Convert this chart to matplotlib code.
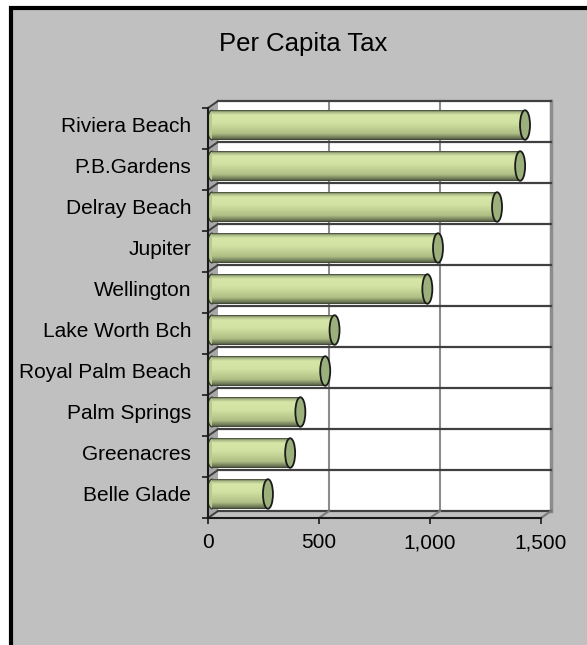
import numpy as np
import matplotlib.pyplot as plt
from matplotlib.patches import Rectangle, Ellipse, Polygon
from matplotlib.colors import LinearSegmentedColormap
from matplotlib.transforms import ScaledTranslation, IdentityTransform
from matplotlib.lines import Line2D

plt.rcParams['font.family'] = ['Liberation Sans', 'DejaVu Sans']

# data (bottom -> top)
cities = ['Belle Glade', 'Greenacres', 'Palm Springs', 'Royal Palm Beach',
          'Lake Worth Bch', 'Wellington', 'Jupiter', 'Delray Beach',
          'P.B.Gardens', 'Riviera Beach']
tax = [252, 352, 398, 510, 552, 970, 1018, 1284, 1388, 1410]
xticks = [0, 500, 1000, 1500]
xticklabels = ['0', '500', '1,000', '1,500']

W, H = 587, 645
fig = plt.figure(figsize=(W / 100, H / 100), dpi=100)
fig.patch.set_facecolor('white')

# grey chart area with black frame (left/top)
fig.add_artist(Rectangle((11 / W, -0.05), 1.2, 637 / H + 0.05,
                         transform=fig.transFigure, facecolor='#C0C0C0',
                         edgecolor='black', linewidth=3, zorder=0))

fig.text(303 / W, 1 - 44 / H, 'Per Capita Tax', fontsize=18.5,
         ha='center', va='center')

ax = fig.add_axes([208 / W, 127 / H, 333 / W, 410 / H])
ax.set_facecolor('none')
ax.set_xlim(0, 1500)
ax.set_ylim(-0.5, len(cities) - 0.5)


def shift(dx, dy):
    return ax.transData + ScaledTranslation(dx / 100, dy / 100, fig.dpi_scale_trans)


back = shift(10, 7)
bar_tr = shift(4, 3.5)
n = len(cities)
bounds = np.arange(-0.5, n, 1.0)

# back wall
ax.add_patch(Rectangle((0, -0.5), 1500, n, transform=back, facecolor='white',
                       edgecolor='none', zorder=0, clip_on=False))
for v in xticks[1:-1]:
    ax.plot([v, v], [-0.5, n - 0.5], transform=back, color='#8c8c8c', lw=1.5,
            zorder=0.5, clip_on=False)
ax.plot([1500, 1500], [-0.5, n - 0.5], transform=back, color='#8c8c8c', lw=2.5,
        zorder=0.5, clip_on=False)
for b in bounds:
    ax.plot([0, 1500], [b, b], transform=back, color='#404040', lw=1.6,
            zorder=0.6, clip_on=False)

# side wall and floor edges
fig.canvas.draw()
p0 = ax.transData.transform((0, -0.5))
p1 = ax.transData.transform((0, n - 0.5))
off = np.array([10, 7])
ax.add_patch(Polygon([p0, p1, p1 + off, p0 + off], closed=True,
                     transform=IdentityTransform(), facecolor='#a8a8a8',
                     edgecolor='none', zorder=0.4, clip_on=False))
for b in bounds:
    p = ax.transData.transform((0, b))
    ax.add_line(Line2D([p[0], p[0] + off[0]], [p[1], p[1] + off[1]],
                       transform=IdentityTransform(), color='#404040', lw=1.4,
                       zorder=0.7, clip_on=False))
for v in xticks[1:]:
    p = ax.transData.transform((v, -0.5))
    ax.add_line(Line2D([p[0], p[0] + off[0]], [p[1], p[1] + off[1]],
                       transform=IdentityTransform(), color='#7a7a7a', lw=1.5,
                       zorder=0.7, clip_on=False))

# cylinders
cmap = LinearSegmentedColormap.from_list('cyl', [
    (0.0, '#3a3f30'), (0.05, '#a3b382'), (0.16, '#d6e6a7'), (0.42, '#d2e2a2'),
    (0.78, '#b0c086'), (0.95, '#667252'), (1.0, '#3a3f30')])
grad = np.linspace(0, 1, 80).reshape(-1, 1)

bars = ax.barh(range(n), tax, height=0.72, transform=bar_tr,
               facecolor='none', edgecolor='none', zorder=2.2)
cap_w = 45
for patch in bars:
    x0, y0 = patch.get_x(), patch.get_y()
    w, h = patch.get_width(), patch.get_height()
    ax.add_patch(Ellipse((x0, y0 + h / 2), cap_w, h, transform=bar_tr,
                         facecolor='#b9c98f', edgecolor='#3a3f30', lw=1.0,
                         zorder=1.9))
    im = ax.imshow(grad, cmap=cmap, extent=(x0, x0 + w, y0, y0 + h),
                   aspect='auto', transform=bar_tr, zorder=2,
                   interpolation='bilinear')
    im.set_clip_path(patch)
    ax.add_patch(Ellipse((x0 + w, y0 + h / 2), cap_w, h, transform=bar_tr,
                         facecolor='#9cb07c', edgecolor='#1a1a1a', lw=1.3,
                         zorder=3))

ax.set_xlim(0, 1500)
ax.set_ylim(-0.5, n - 0.5)

# axes
for s in ['top', 'right']:
    ax.spines[s].set_visible(False)
for s in ['left', 'bottom']:
    ax.spines[s].set_color('#1a1a1a')
    ax.spines[s].set_linewidth(1.5)
    ax.spines[s].set_zorder(4)

ax.set_xticks(xticks)
ax.set_xticklabels(xticklabels)
ax.tick_params(axis='x', direction='out', length=4, width=1.2,
               color='#1a1a1a', labelsize=15, pad=7)
ax.set_yticks(range(n))
ax.set_yticklabels(cities)
ax.set_yticks(bounds, minor=True)
ax.tick_params(axis='y', which='major', length=0, labelsize=15, pad=12)
ax.tick_params(axis='y', which='minor', direction='out', length=4, width=1.2,
               color='#1a1a1a')
for lbl in ax.get_yticklabels():
    lbl.set_transform(lbl.get_transform() +
                      ScaledTranslation(0, 4 / 100, fig.dpi_scale_trans))

fig.savefig('out.png', dpi=100)
